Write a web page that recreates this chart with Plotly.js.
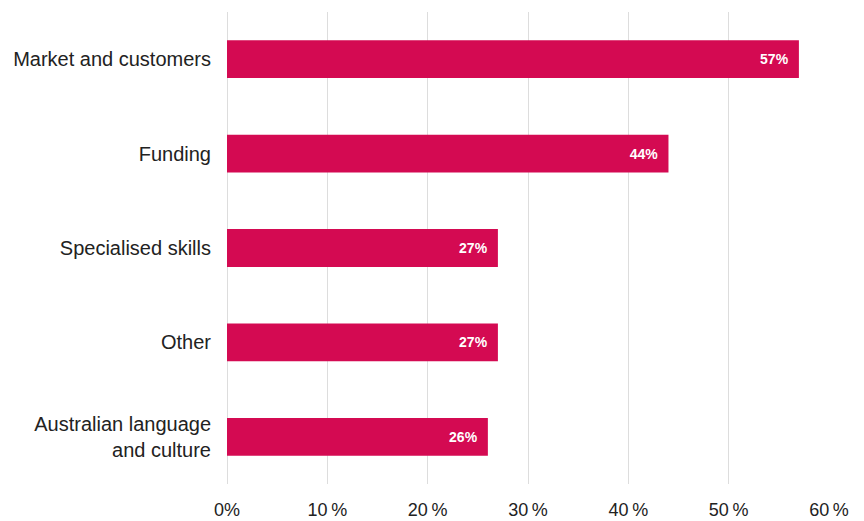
<!DOCTYPE html>
<html>
<head>
<meta charset="utf-8">
<script src="https://cdn.plot.ly/plotly-3.0.1.min.js"></script>
<style>html,body{margin:0;padding:0;background:#fff;}#chart{width:864px;height:521px;}</style>
</head>
<body>
<div id="chart"></div>
<script>
const categories = ["Market and customers", "Funding", "Specialised skills", "Other", "Australian language<br>and culture"];
const values = [57, 44, 27, 27, 26];
const xTicks = [0, 10, 20, 30, 40, 50, 60];

const trace = {
  type: 'bar',
  orientation: 'h',
  y: categories,
  x: values,
  marker: {color: '#D40A52'},
  text: values.map(v => '<b>' + v + '%</b>\u00a0\u00a0'),
  textposition: 'inside',
  insidetextanchor: 'end',
  textfont: {color: '#ffffff', size: 14, family: 'Liberation Sans, Arial, sans-serif'},
  hoverinfo: 'none',
  cliponaxis: false
};

const layout = {
  width: 864, height: 521,
  margin: {l: 227, r: 35, t: 12, b: 37},
  paper_bgcolor: '#ffffff', plot_bgcolor: '#ffffff',
  font: {family: 'Liberation Sans, Arial, sans-serif', color: '#222222', size: 19},
  showlegend: false,
  bargap: 0.6,
  xaxis: {
    range: [0, 60],
    tickvals: xTicks,
    ticktext: xTicks.map(v => v === 0 ? '0%' : v + '\u2009%'),
    showgrid: true, gridcolor: '#dddddd', gridwidth: 1,
    zeroline: true, zerolinecolor: '#dddddd', zerolinewidth: 1,
    showline: false,
    ticks: 'outside', ticklen: 9, tickcolor: 'rgba(0,0,0,0)',
    tickfont: {size: 18, color: '#222222'},
    fixedrange: true
  },
  yaxis: {
    autorange: 'reversed',
    showgrid: false, zeroline: false, showline: false,
    ticks: 'outside', ticklen: 11, tickcolor: 'rgba(0,0,0,0)',
    tickfont: {size: 20, color: '#222222'},
    fixedrange: true
  }
};

Plotly.newPlot('chart', [trace], layout, {displayModeBar: false, staticPlot: true});
</script>
</body>
</html>
